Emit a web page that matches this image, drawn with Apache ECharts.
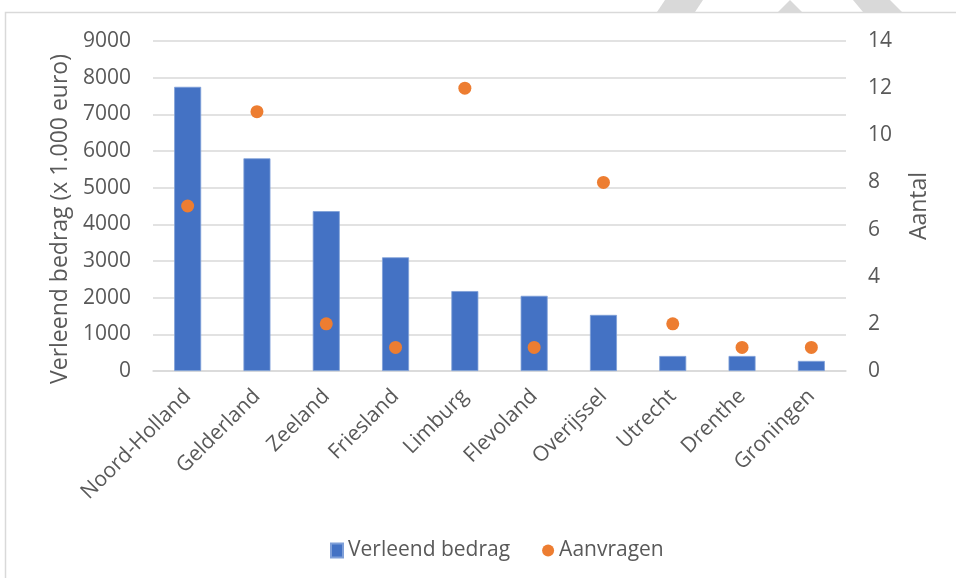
<!DOCTYPE html>
<html>
<head>
<meta charset="utf-8">
<script src="https://cdn.jsdelivr.net/npm/echarts@6/dist/echarts.min.js"></script>
<style>
  html, body { margin: 0; padding: 0; background: #fff; }
  #chart { width: 956px; height: 578px; }
</style>
</head>
<body>
<div id="chart"></div>
<script>
// provincies
const categories = ['Noord-Holland', 'Gelderland', 'Zeeland', 'Friesland', 'Limburg',
  'Flevoland', 'Overijssel', 'Utrecht', 'Drenthe', 'Groningen'];
// verleend bedrag (x 1.000 euro)
const bedrag = [7750, 5800, 4360, 3100, 2180, 2050, 1530, 410, 410, 275];
// aantal aanvragen
const aanvragen = [7, 11, 2, 1, 12, 1, 8, 2, 1, 1];

const textColor = '#595959';
const gridColor = '#d9d9d9';
const fontFam = '"Open Sans", sans-serif';

const myChart = echarts.init(document.getElementById('chart'));

const option = {
  animation: false,
  textStyle: { fontFamily: fontFam },
  grid: { left: 153, right: 110, top: 41, bottom: 207 },
  legend: {
    left: 325,
    top: 535,
    itemGap: 32,
    itemWidth: 12,
    itemHeight: 14,
    textStyle: { color: textColor, fontSize: 21, fontFamily: fontFam },
    data: [
      { name: 'Verleend bedrag', icon: 'rect' },
      { name: 'Aanvragen', icon: 'circle' },
    ],
  },
  xAxis: {
    type: 'category',
    data: categories,
    axisLine: { lineStyle: { color: gridColor, width: 1.5 } },
    axisTick: { show: false },
    axisLabel: {
      interval: 0,
      rotate: 45,
      margin: 22,
      color: textColor,
      fontSize: 21,
    },
  },
  yAxis: [
    {
      type: 'value',
      min: 0,
      max: 9000,
      interval: 1000,
      name: 'Verleend bedrag (x 1.000 euro)',
      nameLocation: 'middle',
      nameRotate: 90,
      nameGap: 80,
      nameTextStyle: { color: textColor, fontSize: 23, padding: [0, 26, 0, 0] },
      axisLine: { show: false },
      axisTick: { show: false },
      axisLabel: { color: textColor, fontSize: 21, margin: 22, formatter: (v) => String(v) },
      splitLine: { lineStyle: { color: gridColor, width: 1.5 } },
    },
    {
      type: 'value',
      min: 0,
      max: 14,
      interval: 2,
      name: 'Aantal',
      nameLocation: 'middle',
      nameRotate: 90,
      nameGap: 62,
      nameTextStyle: { color: textColor, fontSize: 23 },
      axisLine: { show: false },
      axisTick: { show: false },
      axisLabel: { color: textColor, fontSize: 21, margin: 22 },
      splitLine: { show: false },
    },
  ],
  series: [
    {
      name: 'Verleend bedrag',
      type: 'bar',
      data: bedrag,
      barWidth: 27,
      itemStyle: { color: '#4472c4', borderColor: '#7f9fd8', borderWidth: 0.8 },
    },
    {
      name: 'Aanvragen',
      type: 'scatter',
      yAxisIndex: 1,
      data: aanvragen,
      symbolSize: 13,
      itemStyle: { color: '#ed7d31', opacity: 1 },
    },
  ],
  graphic: [
    {
      type: 'rect',
      silent: true,
      shape: { x: 5.5, y: 12.5, width: 1000, height: 700 },
      style: { fill: 'none', stroke: gridColor, lineWidth: 1.5 },
    },
    {
      type: 'polygon',
      silent: true,
      shape: { points: [[657, 12], [695, 12], [703, 0], [665, 0]] },
      style: { fill: gridColor },
    },
    {
      type: 'polygon',
      silent: true,
      shape: { points: [[778, 12], [790, 0], [802, 12]] },
      style: { fill: gridColor },
    },
    {
      type: 'polygon',
      silent: true,
      shape: { points: [[853, 0], [890, 0], [902, 12], [863, 12]] },
      style: { fill: gridColor },
    },
  ],
};

myChart.setOption(option);
window.addEventListener('resize', () => myChart.resize());
</script>
</body>
</html>
